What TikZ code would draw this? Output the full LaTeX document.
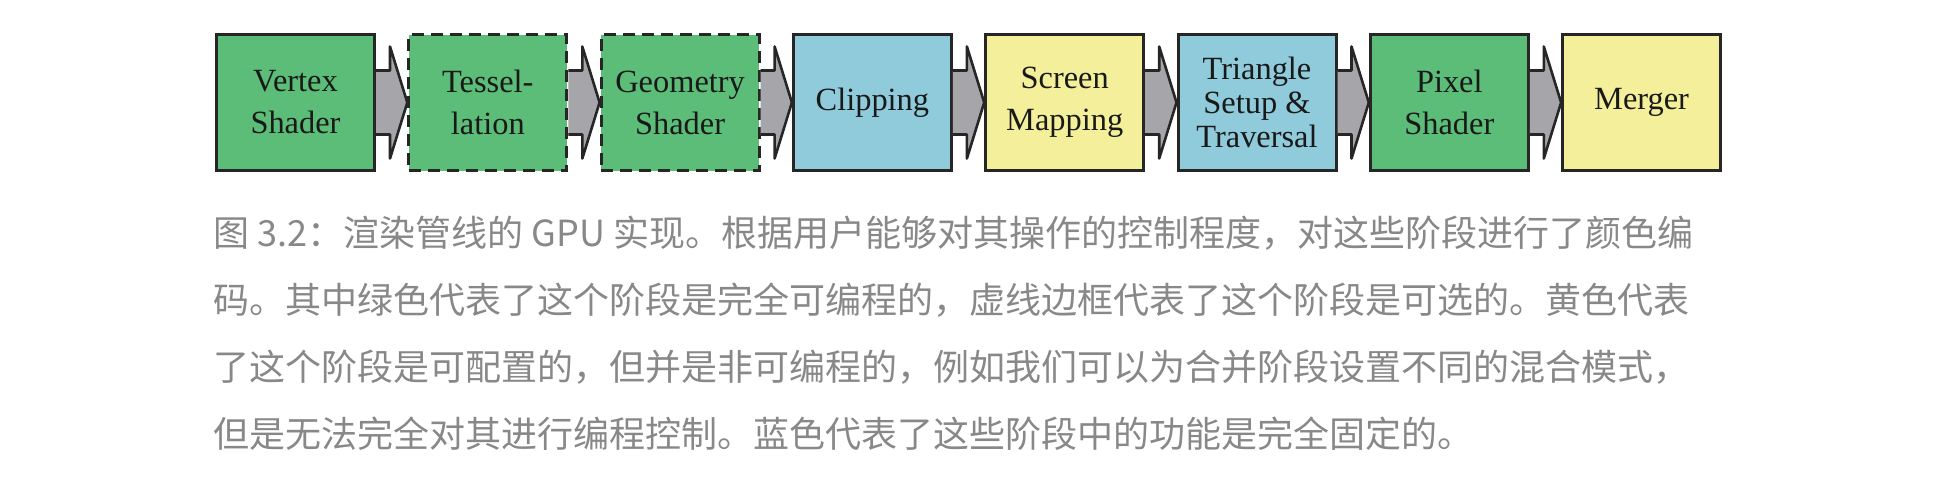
\documentclass[tikz,border=0pt]{standalone}
\usepackage{fontspec}
\setmainfont{Liberation Serif}
\newfontfamily\cjk{Noto Sans CJK SC}
\usetikzlibrary{positioning,calc}
\definecolor{stagegreen}{RGB}{92,189,121}
\definecolor{stageblue}{RGB}{143,203,219}
\definecolor{stageyellow}{RGB}{244,239,154}
\definecolor{arrowgrey}{RGB}{166,166,170}
\definecolor{capgrey}{RGB}{136,136,136}
\begin{document}
\begin{tikzpicture}[x=0.5pt, y=0.5pt, node distance=15.65pt,
    stage/.style={draw=black!85, line width=1.5pt, minimum width=79pt, minimum height=68pt, inner sep=0pt, align=center, text=black!90, font=\fontsize{16.2}{21}\selectfont},
    optional/.style={dash pattern=on 6pt off 3.5pt},
    pipe/.style={draw=black!85, fill=arrowgrey, line width=1.3pt, line join=round},
    caption/.style={anchor=base west, inner sep=0pt, text=capgrey, font=\cjk\fontsize{18}{18}\selectfont}]
    \useasboundingbox (0,0) rectangle (1942,-479);
    \node [stage, fill=stagegreen] (vs) at (295.5,-102.5) {Vertex\\Shader};
    \node [stage, optional, fill=stagegreen, right=of vs] (tess) {Tessel-\\lation};
    \node [stage, optional, fill=stagegreen, right=of tess] (gs) {Geometry\\Shader};
    \node [stage, fill=stageblue, right=of gs] (clip) {Clipping};
    \node [stage, fill=stageyellow, right=of clip] (sm) {Screen\\Mapping};
    \node [stage, fill=stageblue, right=of sm, font=\fontsize{16.2}{17}\selectfont] (tri) {Triangle\\Setup \&\\Traversal};
    \node [stage, fill=stagegreen, right=of tri] (ps) {Pixel\\Shader};
    \node [stage, fill=stageyellow, right=of ps] (merge) {Merger};
    \foreach \a/\b in {vs/tess, tess/gs, gs/clip, clip/sm, sm/tri, tri/ps, ps/merge}
        \draw [pipe] ($(\a.east)+(0,32)$) -- ++(14,0) -- ++(0,24) -- (\b.west)
            -- ($(\a.east)+(14,-56)$) -- ++(0,24) -- ($(\a.east)+(0,-32)$);
    \foreach \txt [count=\i] in {图 3.2：渲染管线的 GPU 实现。根据用户能够对其操作的控制程度，对这些阶段进行了颜色编,
        码。其中绿色代表了这个阶段是完全可编程的，虚线边框代表了这个阶段是可选的。黄色代表,
        了这个阶段是可配置的，但并是非可编程的，例如我们可以为合并阶段设置不同的混合模式，,
        但是无法完全对其进行编程控制。蓝色代表了这些阶段中的功能是完全固定的。}
        \node [caption] (cap\i) at (213,{-246-67*(\i-1)}) {\txt};
\end{tikzpicture}
\end{document}
